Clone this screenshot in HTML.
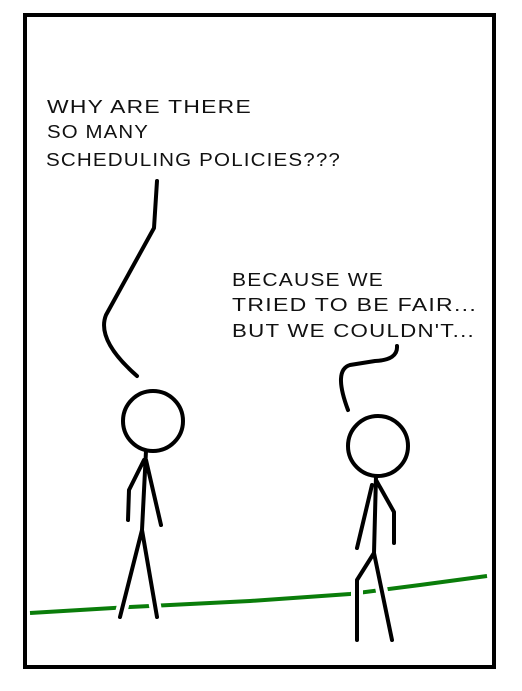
<!DOCTYPE html>
<html><head><meta charset="utf-8"><style>
html,body{margin:0;padding:0;background:#fff}
svg{display:block}
text{font-family:"Liberation Sans",sans-serif;font-size:18px;fill:#111;letter-spacing:1px}
</style></head><body>
<svg width="522" height="691" viewBox="0 0 522 691">
<rect x="25" y="15" width="469" height="652" fill="#fff" stroke="#000" stroke-width="4"/>
<path d="M30 613 L130 607 L250 601 L350 594 L420 585 L487 576" stroke="#0a7d0a" stroke-width="4" fill="none"/>
<g>
<text x="47" y="113" textLength="205" lengthAdjust="spacingAndGlyphs">WHY ARE THERE</text>
<text x="47" y="138" textLength="102" lengthAdjust="spacingAndGlyphs">SO MANY</text>
<text x="46" y="166" textLength="295" lengthAdjust="spacingAndGlyphs">SCHEDULING POLICIES???</text>
</g>
<g>
<text x="232" y="286" textLength="152" lengthAdjust="spacingAndGlyphs">BECAUSE WE</text>
<text x="232" y="311" textLength="245" lengthAdjust="spacingAndGlyphs">TRIED TO BE FAIR...</text>
<text x="232" y="337" textLength="243" lengthAdjust="spacingAndGlyphs">BUT WE COULDN'T...</text>
</g>
<g stroke="#fff" stroke-width="12" fill="none" stroke-linecap="butt">
<path d="M142 530 L120 617 M142 530 L157 617 M374 553 L357 580 L357 640 M374 553 L392 640"/>
</g>
<g stroke="#000" stroke-width="4" fill="none" stroke-linecap="round" stroke-linejoin="round">
<path d="M157 181 L154 228 L106 315 Q96 340 137 376"/>
<path d="M397 346 Q398 360 375 361 L350 365 Q333 370 348 410"/>
<g>
<circle cx="153" cy="421" r="30"/>
<path d="M146 451 L142 530 L120 617 M142 530 L157 617 M146 460 L161 525 M144 460 L129 490 L128 520"/>
</g>
<g>
<circle cx="378" cy="446" r="30"/>
<path d="M376 476 L374 553 L357 580 L357 640 M374 553 L392 640 M376 480 L394 512 L394 543 M372 485 L357 548"/>
</g>
</g>
</svg>
</body></html>
